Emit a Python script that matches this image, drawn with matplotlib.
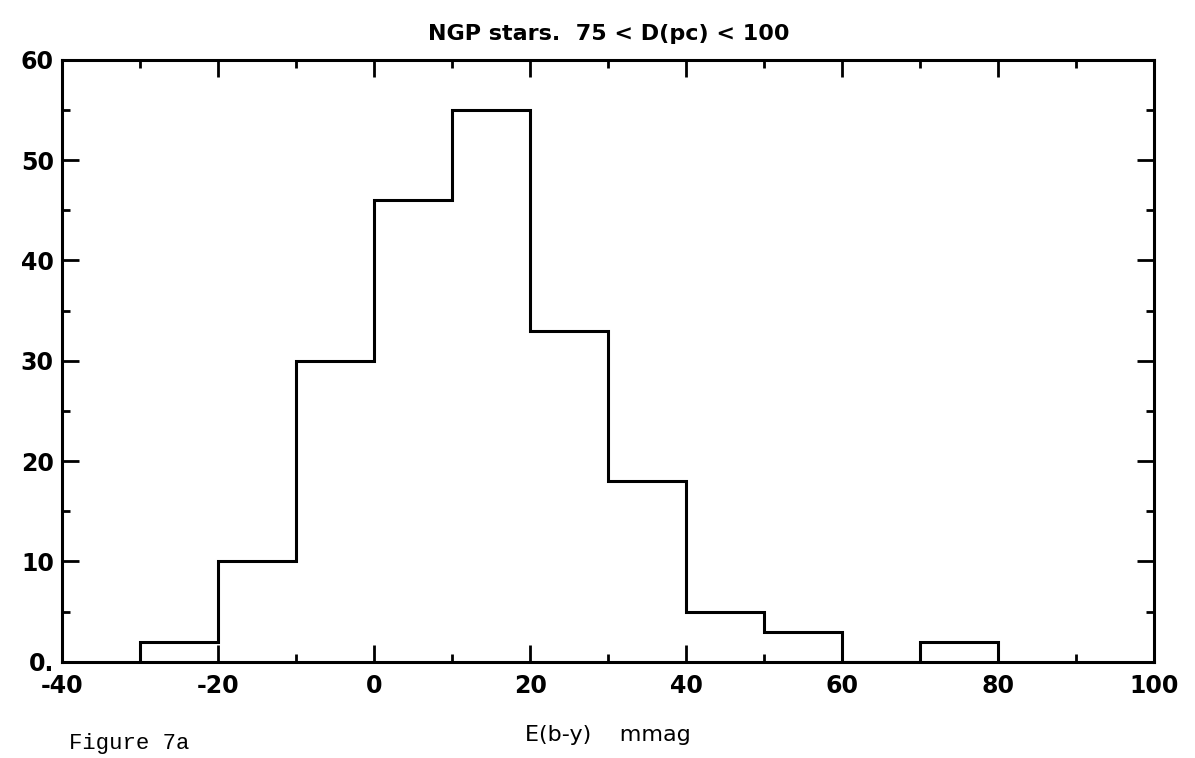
import numpy as np
import matplotlib.pyplot as plt
from matplotlib.ticker import MultipleLocator, FixedFormatter, FixedLocator

plt.rcParams['axes.unicode_minus'] = False

# E(b-y) bins (mmag) and star counts per bin
bin_edges = [-30, -20, -10, 0, 10, 20, 30, 40, 50, 60, 70, 80]
counts = [2, 10, 30, 46, 55, 33, 18, 5, 3, 0, 2]

x_ticks = [-40, -20, 0, 20, 40, 60, 80, 100]
y_ticks = [0, 10, 20, 30, 40, 50, 60]
y_labels = ['0.', '10', '20', '30', '40', '50', '60']

fig = plt.figure(figsize=(11.95, 7.58), dpi=100)
ax = fig.add_axes([0.052, 0.127, 0.914, 0.794])

ax.stairs(counts, bin_edges, color='black', linewidth=2.2)

ax.set_xlim(-40, 100)
ax.set_ylim(0, 60)

ax.xaxis.set_major_locator(FixedLocator(x_ticks))
ax.xaxis.set_minor_locator(MultipleLocator(10))
ax.yaxis.set_major_locator(FixedLocator(y_ticks))
ax.yaxis.set_major_formatter(FixedFormatter(y_labels))
ax.yaxis.set_minor_locator(MultipleLocator(5))

ax.tick_params(which='both', direction='in', top=True, right=True, width=2,
               labelsize=17)
ax.tick_params(axis='x', pad=9)
ax.tick_params(axis='y', pad=6)
ax.tick_params(which='major', length=12)
ax.tick_params(which='minor', length=6)
for lbl in ax.get_xticklabels() + ax.get_yticklabels():
    lbl.set_fontweight('bold')
for sp in ax.spines.values():
    sp.set_linewidth(2.2)

ax.set_title('NGP stars.  75 < D(pc) < 100', fontsize=16, fontweight='bold', pad=14)
ax.set_xlabel('E(b-y)    mmag', fontsize=16, labelpad=19)

fig.text(0.058, 0.012, 'Figure 7a', fontsize=16, family='Liberation Mono')

fig.savefig('out.png', dpi=100)
